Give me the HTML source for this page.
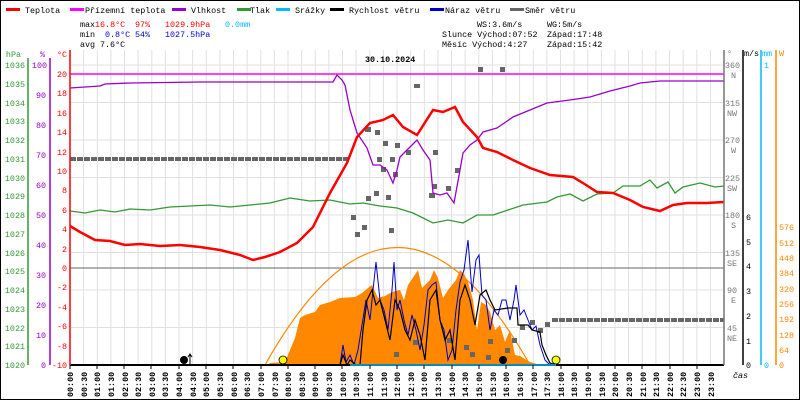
<!DOCTYPE html>
<html><head><meta charset="utf-8"><style>
html,body{margin:0;padding:0;background:#fff}
svg{display:block}
text{font-family:"Liberation Mono",monospace;font-size:8.4px}
</style></head><body>
<svg width="800" height="400" viewBox="0 0 800 400" xmlns="http://www.w3.org/2000/svg">
<rect x="0.5" y="0.5" width="799" height="399" fill="#fff" stroke="#000"/>
<!-- legend -->
<g>
<rect x="6" y="8" width="14" height="3" fill="#f00"/><text x="25" y="13">Teplota</text>
<rect x="70" y="8" width="14" height="3" fill="#f0f"/><text x="85" y="13">Přízemní teplota</text>
<rect x="172" y="8" width="14" height="3" fill="#90c"/><text x="191" y="13">Vlhkost</text>
<rect x="237" y="8" width="14" height="3" fill="#393"/><text x="250" y="13">Tlak</text>
<rect x="276" y="8" width="14" height="3" fill="#0bf"/><text x="295" y="13">Srážky</text>
<rect x="330" y="8" width="14" height="3" fill="#000"/><text x="349" y="13">Rychlost větru</text>
<rect x="430" y="8" width="14" height="3" fill="#00c"/><text x="445" y="13">Náraz větru</text>
<rect x="510" y="8" width="14" height="3" fill="#666"/><text x="525" y="13">Směr větru</text>
</g>
<g>
<text x="80" y="27">max</text><text x="95" y="27" fill="#f00">16.8°C</text><text x="135" y="27" fill="#f00">97%</text><text x="165" y="27" fill="#f00">1029.9hPa</text><text x="225" y="27" fill="#0bf">0.0mm</text>
<text x="80" y="37">min</text><text x="105" y="37" fill="#00c">0.8°C</text><text x="135" y="37" fill="#00c">54%</text><text x="165" y="37" fill="#00c">1027.5hPa</text>
<text x="80" y="47">avg</text><text x="100" y="47">7.6°C</text>
<text x="477" y="27">WS:3.6m/s</text><text x="547" y="27">WG:5m/s</text>
<text x="442" y="37">Slunce Východ:07:52</text><text x="547" y="37">Západ:17:48</text>
<text x="442" y="47">Měsíc  Východ:4:27</text><text x="547" y="47">Západ:15:42</text>
</g>
<!-- grid -->
<g stroke="#e0e0e0" stroke-width="1">
<path d="M83.6 50V365M97.3 50V365M110.9 50V365M124.5 50V365M138.1 50V365M151.8 50V365M165.4 50V365M179 50V365M192.6 50V365M206.3 50V365M219.9 50V365M233.5 50V365M247.1 50V365M260.8 50V365M274.4 50V365M288 50V365M301.6 50V365M315.3 50V365M328.9 50V365M342.5 50V365M356.1 50V365M369.8 50V365M383.4 50V365M397 50V365M410.6 50V365M424.3 50V365M437.9 50V365M451.5 50V365M465.1 50V365M478.8 50V365M492.4 50V365M506 50V365M519.6 50V365M533.3 50V365M546.9 50V365M560.5 50V365M574.1 50V365M587.8 50V365M601.4 50V365M615 50V365M628.6 50V365M642.3 50V365M655.9 50V365M669.5 50V365M683.1 50V365M696.8 50V365M710.4 50V365"/>
<path d="M70 65H724M70 102.5H724M70 140H724M70 177.5H724M70 215H724M70 252.5H724M70 290H724M70 327.5H724"/>
</g>
<line x1="70" y1="268" x2="724" y2="268" stroke="#666"/>
<line x1="70" y1="74" x2="724" y2="74" stroke="#f0f" stroke-width="1.5"/>
<text x="365" y="62" font-size="12" font-weight="bold">30.10.2024</text>
<path d="M265 365 Q397 130 530 365" fill="none" stroke="#f80" stroke-width="1.2"/>
<polygon fill="#f80" points="268,365 270,363 285,362 290,350 295,338 300,318 305,315 315,312 320,305 330,302 340,298 355,297 362,293 368,288 372,285 378,298 385,296 392,292 400,290 404,300 408,285 414,276 418,270 422,288 426,284 430,280 434,270 438,278 443,298 448,290 452,285 456,280 460,270 464,274 468,282 473,300 477,330 481,302 486,305 490,312 495,330 500,325 505,342 510,330 515,355 520,356 530,362 540,365"/>
<circle cx="283" cy="360" r="4" fill="#ff0" stroke="#000" stroke-width="0.8"/>
<circle cx="556" cy="360" r="4" fill="#ff0" stroke="#000" stroke-width="0.8"/>
<circle cx="184" cy="360" r="4" fill="#000"/>
<circle cx="503" cy="360" r="4" fill="#000"/>
<path d="M190 365V355M188 357L190 354L192 357" stroke="#000" fill="none"/>
<line x1="70" y1="159" x2="350" y2="159" stroke="#666" stroke-width="4" stroke-dasharray="6 1"/>
<line x1="552" y1="320" x2="724" y2="320" stroke="#666" stroke-width="4" stroke-dasharray="6 1"/>
<g fill="#666">
<rect x="478" y="67" width="5" height="5"/><rect x="500" y="67" width="5" height="5"/>
<rect x="414" y="84" width="6" height="4"/><rect x="365" y="127" width="6" height="5"/>
<rect x="375" y="130" width="5" height="5"/><rect x="383" y="141" width="5" height="5"/>
<rect x="395" y="143" width="5" height="5"/><rect x="406" y="150" width="5" height="5"/>
<rect x="433" y="150" width="5" height="5"/><rect x="390" y="157" width="5" height="5"/>
<rect x="381" y="167" width="5" height="5"/><rect x="377" y="157" width="5" height="5"/>
<rect x="393" y="172" width="5" height="5"/><rect x="432" y="184" width="5" height="5"/>
<rect x="446" y="186" width="5" height="5"/><rect x="374" y="191" width="5" height="5"/>
<rect x="366" y="196" width="5" height="5"/><rect x="429" y="193" width="6" height="5"/>
<rect x="351" y="215" width="5" height="5"/><rect x="355" y="232" width="5" height="5"/>
<rect x="362" y="225" width="5" height="5"/><rect x="389" y="228" width="5" height="5"/>
<rect x="455" y="168" width="5" height="5"/><rect x="386" y="195" width="5" height="5"/>
<rect x="520" y="325" width="5" height="5"/><rect x="530" y="320" width="5" height="5"/>
<rect x="538" y="328" width="5" height="5"/><rect x="545" y="322" width="5" height="5"/>
<rect x="512" y="338" width="5" height="5"/><rect x="488" y="339" width="5" height="5"/>
<rect x="464" y="345" width="5" height="5"/><rect x="470" y="352" width="5" height="5"/>
<rect x="505" y="348" width="5" height="5"/><rect x="413" y="340" width="5" height="5"/>
<rect x="394" y="352" width="5" height="5"/><rect x="447" y="338" width="5" height="5"/>
<rect x="486" y="355" width="5" height="5"/>
</g>
<polyline fill="none" stroke="#00c" stroke-width="1" points="340,365 343,345 346,362 350,355 354,365 358,350 362,325 366,300 370,320 373,290 376,262 380,300 384,310 388,330 392,290 394,262 397,310 400,300 404,320 408,335 412,315 416,330 420,350 424,325 428,290 432,285 436,282 440,320 444,330 448,360 452,350 456,310 460,282 464,270 468,240 472,292 476,260 479,255 482,295 486,300 490,330 494,310 498,315 502,300 506,300 510,320 514,300 516,285 520,315 524,310 528,320 532,330 536,326 540,345 545,360 550,365"/>
<polyline fill="none" stroke="#000" stroke-width="1.2" points="70,365 340,365 343,355 347,365 350,360 356,365 360,365 363,330 367,300 372,290 376,305 380,300 385,320 390,340 395,300 400,310 405,330 410,340 415,320 420,335 425,360 430,300 436,290 440,320 445,340 450,330 455,360 460,300 465,285 470,300 475,325 480,295 486,290 490,300 495,310 508,308 517,308 518,325 528,325 532,330 540,332 542,345 546,355 550,363 556,365 724,365"/>
<line x1="70" y1="365" x2="724" y2="365" stroke="#000" stroke-width="2"/>
<line x1="350" y1="365" x2="556" y2="365" stroke="#0bf" stroke-width="1.5"/>
<polyline fill="none" stroke="#393" stroke-width="1.3" points="70,211 85,213 100,210 115,212 130,209 150,210 170,207 190,206 210,205 230,207 250,205 270,203 290,198 310,201 330,200 350,204 363,203 380,206 397,208 413,213 433,223 448,220 463,223 477,215 493,215 508,210 523,205 547,202 557,197 570,194 583,201 597,194 613,193 623,186 640,186 650,180 657,188 668,182 675,193 683,187 700,183 715,187 724,186"/>
<polyline fill="none" stroke="#90c" stroke-width="1.3" points="70,88 85,87 100,86 105,84 130,83 200,82 300,82 333,82 337,75 342,80 345,85 350,110 357,133 367,148 373,165 380,165 387,170 393,183 397,170 400,157 407,150 417,140 423,150 430,160 433,193 440,195 447,193 454,203 460,170 463,153 470,145 477,140 483,132 497,128 513,117 530,110 547,103 570,100 590,97 610,91 630,86 640,83 660,81 724,81"/>
<polyline fill="none" stroke="#f00" stroke-width="2.5" points="70,226 80,232 95,240 110,241 125,245 140,244 160,246 180,245 200,247 220,250 240,255 253,260 265,257 280,252 297,243 313,227 330,193 347,163 357,137 370,123 383,120 393,115 403,127 417,135 433,110 443,112 455,107 463,122 477,137 483,148 497,152 513,160 530,168 550,175 573,177 583,183 597,192 613,193 630,200 643,207 660,211 673,205 687,203 707,203 724,202"/>
<g fill="none" stroke-width="1.5">
<line x1="28" y1="58" x2="28" y2="365" stroke="#393"/>
<line x1="50" y1="58" x2="50" y2="365" stroke="#90c"/>
<line x1="70" y1="50" x2="70" y2="365" stroke="#f00"/>
<line x1="724" y1="50" x2="724" y2="365" stroke="#777"/>
<line x1="743" y1="50" x2="743" y2="365" stroke="#000"/>
<line x1="761" y1="50" x2="761" y2="365" stroke="#0bf"/>
<line x1="776" y1="50" x2="776" y2="365" stroke="#f80"/>
</g>
<g fill="#393" text-anchor="end">
<text x="21" y="57">hPa</text>
<text x="25" y="68">1036</text><text x="25" y="87">1035</text><text x="25" y="106">1034</text><text x="25" y="124">1033</text><text x="25" y="143">1032</text><text x="25" y="162">1031</text><text x="25" y="181">1030</text><text x="25" y="199">1029</text><text x="25" y="218">1028</text><text x="25" y="237">1027</text><text x="25" y="256">1026</text><text x="25" y="274">1025</text><text x="25" y="293">1024</text><text x="25" y="312">1023</text><text x="25" y="331">1022</text><text x="25" y="349">1021</text><text x="25" y="368">1020</text>
</g>
<g fill="#90c" text-anchor="end">
<text x="45" y="57">%</text>
<text x="47" y="68">100</text><text x="46" y="98">90</text><text x="46" y="128">80</text><text x="46" y="158">70</text><text x="46" y="188">60</text><text x="46" y="218">50</text><text x="46" y="248">40</text><text x="46" y="278">30</text><text x="46" y="308">20</text><text x="46" y="338">10</text><text x="46" y="368">0</text>
</g>
<g fill="#f00" text-anchor="end">
<text x="67" y="57">°C</text>
<text x="67" y="77">20</text><text x="67" y="96">18</text><text x="67" y="116">16</text><text x="67" y="135">14</text><text x="67" y="155">12</text><text x="67" y="174">10</text><text x="67" y="193">8</text><text x="67" y="213">6</text><text x="67" y="232">4</text><text x="67" y="252">2</text><text x="67" y="271">0</text><text x="67" y="290">-2</text><text x="67" y="310">-4</text><text x="67" y="329">-6</text><text x="67" y="349">-8</text><text x="67" y="368">-10</text>
</g>
<g fill="#777">
<text x="727" y="56">°</text>
<text x="725" y="68">360</text><text x="731" y="78">N</text>
<text x="725" y="106">315</text><text x="727" y="116">NW</text>
<text x="725" y="143">270</text><text x="731" y="153">W</text>
<text x="725" y="181">225</text><text x="727" y="191">SW</text>
<text x="725" y="218">180</text><text x="731" y="228">S</text>
<text x="725" y="256">135</text><text x="727" y="266">SE</text>
<text x="727" y="293">90</text><text x="731" y="303">E</text>
<text x="727" y="331">45</text><text x="727" y="341">NE</text>
</g>
<g fill="#000">
<text x="744" y="56">m/s</text>
<text x="746" y="368">0</text><text x="746" y="344">1</text><text x="746" y="319">2</text><text x="746" y="294">3</text><text x="746" y="269">4</text><text x="746" y="245">5</text><text x="746" y="220">6</text>
<text x="733" y="378" font-style="italic">čas</text>
</g>
<g fill="#0bf"><text x="762" y="56">mm</text><text x="764" y="68">1</text><text x="764" y="368">0</text></g>
<g fill="#f80">
<text x="779" y="56">W</text>
<text x="779" y="368">0</text><text x="779" y="353">64</text><text x="779" y="338">128</text><text x="779" y="322">192</text><text x="779" y="307">256</text><text x="779" y="292">320</text><text x="779" y="276">384</text><text x="779" y="261">448</text><text x="779" y="246">512</text><text x="779" y="230">576</text>
</g>
<g font-size="9" font-weight="bold" fill="#000">
<text transform="translate(73,397) rotate(-90)">00:00</text><text transform="translate(87,397) rotate(-90)">00:30</text><text transform="translate(100,397) rotate(-90)">01:00</text><text transform="translate(114,397) rotate(-90)">01:30</text><text transform="translate(128,397) rotate(-90)">02:00</text><text transform="translate(141,397) rotate(-90)">02:30</text><text transform="translate(155,397) rotate(-90)">03:00</text><text transform="translate(168,397) rotate(-90)">03:30</text><text transform="translate(182,397) rotate(-90)">04:00</text><text transform="translate(196,397) rotate(-90)">04:30</text><text transform="translate(209,397) rotate(-90)">05:00</text><text transform="translate(223,397) rotate(-90)">05:30</text><text transform="translate(237,397) rotate(-90)">06:00</text><text transform="translate(250,397) rotate(-90)">06:30</text><text transform="translate(264,397) rotate(-90)">07:00</text><text transform="translate(278,397) rotate(-90)">07:30</text><text transform="translate(291,397) rotate(-90)">08:00</text><text transform="translate(305,397) rotate(-90)">08:30</text><text transform="translate(318,397) rotate(-90)">09:00</text><text transform="translate(332,397) rotate(-90)">09:30</text><text transform="translate(346,397) rotate(-90)">10:00</text><text transform="translate(359,397) rotate(-90)">10:30</text><text transform="translate(373,397) rotate(-90)">11:00</text><text transform="translate(387,397) rotate(-90)">11:30</text><text transform="translate(400,397) rotate(-90)">12:00</text><text transform="translate(414,397) rotate(-90)">12:30</text><text transform="translate(427,397) rotate(-90)">13:00</text><text transform="translate(441,397) rotate(-90)">13:30</text><text transform="translate(455,397) rotate(-90)">14:00</text><text transform="translate(468,397) rotate(-90)">14:30</text><text transform="translate(482,397) rotate(-90)">15:00</text><text transform="translate(496,397) rotate(-90)">15:30</text><text transform="translate(509,397) rotate(-90)">16:00</text><text transform="translate(523,397) rotate(-90)">16:30</text><text transform="translate(537,397) rotate(-90)">17:00</text><text transform="translate(550,397) rotate(-90)">17:30</text><text transform="translate(564,397) rotate(-90)">18:00</text><text transform="translate(577,397) rotate(-90)">18:30</text><text transform="translate(591,397) rotate(-90)">19:00</text><text transform="translate(605,397) rotate(-90)">19:30</text><text transform="translate(618,397) rotate(-90)">20:00</text><text transform="translate(632,397) rotate(-90)">20:30</text><text transform="translate(646,397) rotate(-90)">21:00</text><text transform="translate(659,397) rotate(-90)">21:30</text><text transform="translate(673,397) rotate(-90)">22:00</text><text transform="translate(686,397) rotate(-90)">22:30</text><text transform="translate(700,397) rotate(-90)">23:00</text><text transform="translate(714,397) rotate(-90)">23:30</text>
</g>
<g stroke="#000"><path d="M70 365v4M97 365v4M124 365v4M151 365v4M179 365v4M206 365v4M233 365v4M261 365v4M288 365v4M315 365v4M342 365v4M370 365v4M397 365v4M424 365v4M452 365v4M479 365v4M506 365v4M533 365v4M561 365v4M588 365v4M615 365v4M642 365v4M670 365v4M697 365v4"/></g>
</svg>
</body></html>
